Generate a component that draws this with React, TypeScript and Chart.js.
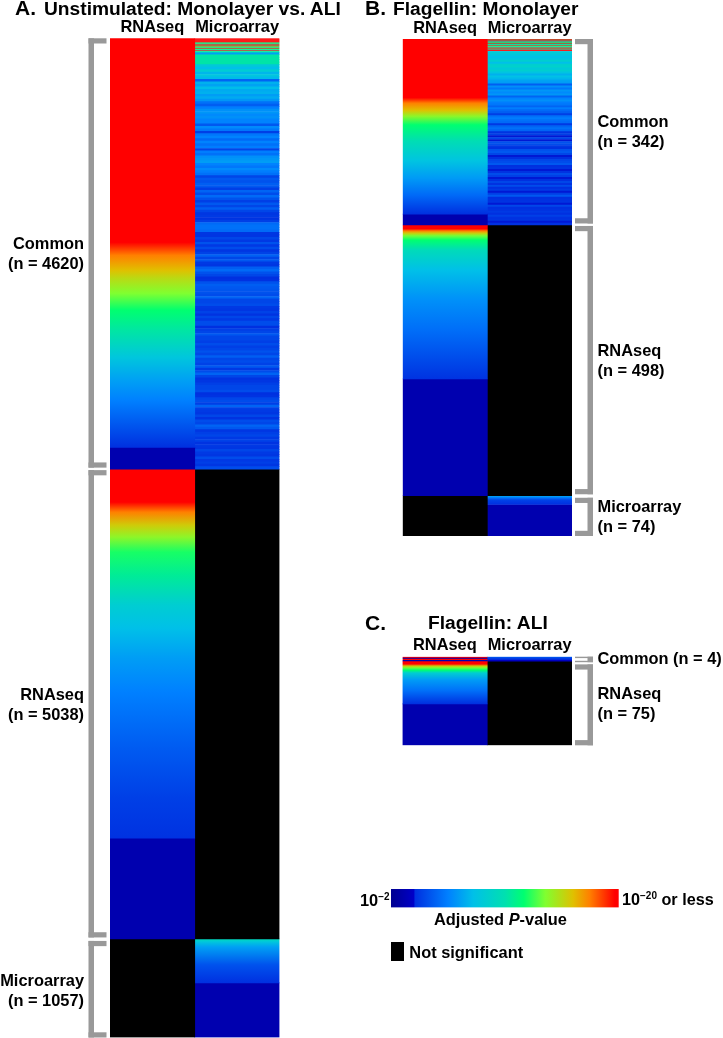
import React, { useEffect, useRef } from "react";
import { Chart, registerables } from "chart.js";

Chart.register(...registerables);

// ---------- colour scale: -log10(adjusted P) -> colour ----------
const scaleValues = [2, 3.8, 3.9, 6.5, 8.5, 11, 12.5, 14.2, 16.4, 17.7, 19.7, 20];
const scaleColours = [
  [0, 0, 144], [0, 0, 200], [0, 48, 224], [0, 128, 255], [0, 192, 232], [0, 224, 176],
  [0, 255, 112], [128, 255, 48], [224, 192, 0], [255, 128, 0], [255, 0, 0], [255, 0, 0],
];
const columns = ["RNAseq", "Microarray"];

// ---------- Panel A ----------
const aCounts = [4620, 5038, 1057];
const aCommonRnaRanks = [0, 2188, 2328, 2488, 2574, 2735, 2917, 3132, 3422, 3668, 3883, 4172, 4387];
const aCommonRnaValues = [20, 19.7, 17.7, 16.4, 15.5, 14.2, 12.5, 11.3, 9, 7.5, 6.5, 5, 3.9];
const aCommonRnaFloorRanks = [4387, 4620];
const aRnaRnaRanks = [4620, 4974, 5081, 5221, 5349, 5510, 5757, 6079, 6326, 6647, 7012, 7613, 8149, 8578];
const aRnaRnaValues = [20, 19.7, 17.7, 16, 14.5, 12.8, 11.6, 9.5, 8.5, 7.4, 6.5, 5.3, 4.4, 3.95];
const aRnaRnaFloorRanks = [8578, 9658];
const aMicroMicroRanks = [9658, 9690, 9744, 9937, 10130];
const aMicroMicroValues = [10.5, 9, 7.5, 5, 3.9];
const aMicroMicroFloorRanks = [10130, 10715];
const aCommonMicroTopRanks = [0, 150];
const aCommonMicroTop = [
  20, 20, 20, 20, 20, 20, 20, 20, 12, 20, 12, 12, 20, 11, 20, 13, 13, 20, 12, 12, 20, 12, 12, 11, 20, 11, 12, 11,
];
const aCommonMicroRestRanks = [150, 4620];
const aCommonMicroRest = [
  7.5, 11.2, 11.2, 11.2, 11.2,
  9.2, 8.5, 9.4, 8.2, 9, 8.3, 5.6, 8, 7.6, 8.4, 7.8,
  8, 7.4, 7.8, 7.2, 6, 5.4, 6.4, 7, 7.2, 6.8, 7, 6.6,
  6.6, 5.2, 6.8, 6.2, 4.4, 6.2, 6.6, 5.8, 6.6, 6, 6.4, 4.6,
  6.4, 6, 7, 7.2, 7.4, 6.6, 6.2, 6.8, 6.4, 6, 4.6, 5.2,
  5, 5.4, 5.2, 4.4, 5.6, 4.8, 5.8, 5, 4.4, 5.2, 4.6, 5.4,
  4.6, 4.1, 4.2, 4, 4.4, 5.8, 6, 6, 5.8, 4.1, 4.05, 4.6,
  4.2, 5, 4.2, 4.8, 4.1,
  4.5, 5.5, 4.6, 5.2, 4.2, 4.1, 5.4, 5.8, 5, 4.6, 3.9, 3.95, 5, 5.4, 5.2, 5.1, 5, 4.8, 5.6, 4.6,
  4.6, 4.8, 4.2, 4.1, 4.5, 4, 4.6, 4.2, 4.8, 4.8, 3.9, 4.4, 4.6, 5.2, 4.6, 4.6, 4.4, 4.8, 4.4, 4.6,
  5, 4.6, 5.4, 4.6, 4.8, 4.5, 5.2, 4.2, 4.8, 5.6, 4.6, 4, 4.1, 4.4, 4.6, 4.6, 4.8, 3.9, 4, 4.6,
  4.8, 4.4, 5.6, 4.4, 4.2, 4.1, 4.6, 4, 4.8, 4.6, 5.6, 5.2, 4.1, 4.4, 4.6, 4.2,
  4.5, 4, 4.2, 4.1, 4.6, 4.2, 4.1, 4.8, 4.2, 4.4, 4.1, 4.8,
];

// ---------- Panel B ----------
const bCounts = [342, 498, 74];
const bCommonRnaRanks = [0, 108, 118, 131, 142, 158, 188, 224, 256, 287, 311, 322];
const bCommonRnaValues = [20, 19.7, 17.7, 16.4, 14.5, 12.5, 10.8, 8.8, 7.3, 5.8, 4.5, 3.9];
const bCommonRnaFloorRanks = [322, 342];
const bRnaRnaRanks = [342, 349, 353, 357, 362, 370, 388, 425, 480, 535, 625];
const bRnaRnaValues = [20, 19.7, 17.7, 16, 14, 12.5, 10.6, 8.5, 7, 5.9, 4];
const bRnaRnaFloorRanks = [625, 840];
const bMicroMicroRanks = [840, 843, 848, 856];
const bMicroMicroValues = [8, 6.5, 4.5, 3.9];
const bMicroMicroFloorRanks = [856, 914];
const bCommonMicroTopRanks = [0, 24];
const bCommonMicroTop = [
  20, 20, 12, 20, 10, 11, 20, 12, 12, 20, 11, 11, 12, 20, 12, 12, 20, 11, 12, 20, 20, 11, 20, 20, 9, 9,
];
const bCommonMicroRestRanks = [24, 342];
const bCommonMicroRest = [
  9.4, 9, 8.6, 8.8, 9.6,
  8.5, 9.6, 9.8, 9.2, 9.6,
  8.8, 8, 8.6, 8.2, 7.6,
  7.4, 5.4, 7, 6.2, 7.2,
  6.8, 7.2, 5.6, 6.6, 7,
  6.4, 6.2, 5.6, 6.4, 5.8,
  5.4, 4.4, 6, 6.4, 6,
  5.8, 4.2, 5.6, 6, 5.6,
  4, 4.4, 3.85, 4.6, 3.85,
  5, 4.8, 4.2, 3.95, 5,
  5.2, 4.6, 3.85, 3.9, 4.6,
  4.8, 5.2, 3.9, 4, 3.85,
  4, 4.8, 4.4, 3.85, 3.9,
  4.6, 3.95, 4.8, 3.9, 4.2,
  3.85, 4.4, 5.2, 3.9, 3.95,
  4, 3.85, 4.6, 3.9, 3.95,
  4.2, 3.9, 4.4, 3.95, 4, 3.85, 3.9,
];

// ---------- Panel C ----------
const cCounts = [4, 75];
const cCommonRna = [20, 3, 20, 3];
const cCommonMicro = [5.5, 4.4, 4.2, 3.6];
const cRnaRnaRanks = [4, 6.5, 8.3, 10, 12, 14.5, 21, 30, 42];
const cRnaRnaValues = [20, 19.7, 16, 14, 12.5, 9.5, 7.3, 6, 3.9];
const cRnaRnaFloorRanks = [42, 79];

const groupNames = ["Common", "RNAseq", "Microarray"];
const FLOOR = [3];
const FONT = '"Liberation Sans"';

function colourOf(v: number) {
  let i = 0;
  while (i < scaleValues.length - 2 && v > scaleValues[i + 1]) i++;
  const t = Math.max(0, Math.min(1, (v - scaleValues[i]) / (scaleValues[i + 1] - scaleValues[i])));
  const c = scaleColours[i].map((a, k) => Math.round(a + (scaleColours[i + 1][k] - a) * t));
  return `rgb(${c[0]},${c[1]},${c[2]})`;
}

// A column segment whose value changes continuously between read-off key points.
function ramp(col: string, ranks: number[], values: number[]) {
  const last = ranks[ranks.length - 1];
  return {
    data: [{ x: col, y: [ranks[0], last] }],
    backgroundColor: (ctx: any) => {
      const y = ctx.chart.scales.y;
      const p0 = y ? y.getPixelForValue(ranks[0]) : NaN;
      const p1 = y ? y.getPixelForValue(last) : NaN;
      if (!Number.isFinite(p0) || !Number.isFinite(p1)) return "#000";
      const g = ctx.chart.ctx.createLinearGradient(0, p0, 0, p1);
      ranks.forEach((r, i) => g.addColorStop((r - ranks[0]) / (last - ranks[0]), colourOf(values[i])));
      return g;
    },
  };
}
// A flat segment
function flat(col: string, ranks: number[], values: number[]) {
  return { data: [{ x: col, y: [ranks[0], ranks[1]] }], backgroundColor: colourOf(values[0]) };
}
// Not significant
function none(col: string, from: number, to: number) {
  return { data: [{ x: col, y: [from, to] }], backgroundColor: "#000" };
}
// Evenly sized gene rows
function rows(col: string, range: number[], values: number[], blend = false) {
  const step = (range[1] - range[0]) / values.length;
  return {
    data: values.map((v, i) => ({ x: col, y: [range[0] + i * step, range[0] + (i + 1) * step], v })),
    backgroundColor: (ctx: any) => colourOf(ctx.raw ? ctx.raw.v : 3),
    ...(blend ? { inflateAmount: 0.15 } : {}),
  };
}

type Bracket = {
  name: string; n: number; inline?: boolean; dy?: number; inTop?: number; inBottom?: number; thick?: number;
};

function bracketPlugin(side: "left" | "right", groups: Bracket[]) {
  return {
    id: "brackets",
    afterDraw(chart: any) {
      const { ctx, chartArea, scales } = chart;
      const y = scales.y;
      let start = 0;
      groups.forEach((g, i) => {
        const end = start + g.n;
        const top = y.getPixelForValue(start) + (g.inTop ?? (i === 0 ? 0 : 1));
        const bottom = y.getPixelForValue(end) - (g.inBottom ?? (i === groups.length - 1 ? 0 : 1.5));
        const thick = g.thick ?? 5.2;
        const near = side === "left" ? chartArea.left - 3.5 : chartArea.right + 3;
        const far = side === "left" ? chartArea.left - 21.5 : chartArea.right + 21;
        const x0 = Math.min(near, far);
        const width = Math.abs(near - far);
        ctx.save();
        ctx.fillStyle = "#999999";
        ctx.fillRect(x0, top, width, thick);
        ctx.fillRect(x0, bottom - thick, width, thick);
        ctx.fillRect(side === "left" ? far : far - 5.5, top, 5.5, bottom - top);
        ctx.fillStyle = "#000";
        ctx.font = `bold 16.4px ${FONT}`;
        ctx.textBaseline = "alphabetic";
        ctx.textAlign = side === "left" ? "right" : "left";
        const lx = side === "left" ? chartArea.left - 26 : chartArea.right + 25.5;
        const mid = (y.getPixelForValue(start) + y.getPixelForValue(end)) / 2 + (g.dy ?? 0);
        if (g.inline) {
          ctx.fillText(`${g.name} (n = ${g.n})`, lx, mid + 5);
        } else {
          ctx.fillText(g.name, lx, mid - 4.5);
          ctx.fillText(`(n = ${g.n})`, lx, mid + 15.5);
        }
        ctx.restore();
        start = end;
      });
    },
  };
}

function panelConfig(datasets: any[], total: number, pad: any, axisHeight: number, plugin: any, tickPad: number) {
  return {
    type: "bar",
    data: {
      labels: columns,
      datasets: datasets.map((d) => ({ ...d, barPercentage: 1, categoryPercentage: 1, borderWidth: 0 })),
    },
    plugins: [plugin],
    options: {
      animation: false,
      responsive: false,
      devicePixelRatio: 1,
      layout: { padding: pad },
      plugins: { legend: { display: false }, tooltip: { enabled: false }, title: { display: false } },
      scales: {
        x: {
          position: "top",
          stacked: true,
          grid: { display: false, drawTicks: false },
          border: { display: false },
          afterFit: (s: any) => { s.height = axisHeight; },
          ticks: {
            color: "#000", padding: tickPad, maxRotation: 0, autoSkip: false,
            font: { family: FONT, size: 16.4, weight: "bold" },
          },
        },
        y: { display: false, reverse: true, min: 0, max: total, stacked: false },
      },
    },
  };
}

function legendConfig() {
  return {
    type: "bar",
    data: {
      labels: ["Adjusted P-value"],
      datasets: [{
        data: [[scaleValues[0], scaleValues[scaleValues.length - 1]]],
        barPercentage: 1, categoryPercentage: 1, borderWidth: 0,
        backgroundColor: (ctx: any) => {
          const x = ctx.chart.scales.x;
          const a = x ? x.getPixelForValue(2) : NaN;
          const b = x ? x.getPixelForValue(20) : NaN;
          if (!Number.isFinite(a) || !Number.isFinite(b)) return "#000";
          const g = ctx.chart.ctx.createLinearGradient(a, 0, b, 0);
          scaleValues.forEach((v) => g.addColorStop((v - 2) / 18, colourOf(v)));
          return g;
        },
      }],
    },
    options: {
      indexAxis: "y",
      animation: false,
      responsive: false,
      devicePixelRatio: 1,
      layout: { padding: { left: 31, right: 104.3, top: 9, bottom: 12.5 } },
      plugins: { legend: { display: false }, tooltip: { enabled: false } },
      scales: {
        x: { display: false, min: 2, max: 20 },
        y: { display: false },
      },
    },
  };
}

function Txt({ x, base, size, children }: any) {
  const lh = Math.round(size * 1.2);
  return (
    <span style={{
      position: "absolute", left: x, top: base - lh / 2 - 0.3465 * size, lineHeight: `${lh}px`,
      fontFamily: FONT, fontWeight: "bold", fontSize: size, color: "#000", whiteSpace: "nowrap",
    }}>{children}</span>
  );
}

function Sup({ children }: any) {
  return <span style={{ fontSize: 10, verticalAlign: 6, lineHeight: 0, fontWeight: "bold" }}>{children}</span>;
}

export default function App() {
  const aRef = useRef<HTMLCanvasElement>(null);
  const bRef = useRef<HTMLCanvasElement>(null);
  const cRef = useRef<HTMLCanvasElement>(null);
  const lRef = useRef<HTMLCanvasElement>(null);

  useEffect(() => {
    const A = columns[0], M = columns[1];
    const aTotal = aCounts[0] + aCounts[1] + aCounts[2];
    const bTotal = bCounts[0] + bCounts[1] + bCounts[2];
    const cTotal = cCounts[0] + cCounts[1];

    const charts = [
      new Chart(aRef.current as any, panelConfig([
        ramp(A, aCommonRnaRanks, aCommonRnaValues),
        flat(A, aCommonRnaFloorRanks, FLOOR),
        ramp(A, aRnaRnaRanks, aRnaRnaValues),
        flat(A, aRnaRnaFloorRanks, FLOOR),
        none(A, aCounts[0] + aCounts[1], aTotal),
        rows(M, aCommonMicroTopRanks, aCommonMicroTop, true),
        rows(M, aCommonMicroRestRanks, aCommonMicroRest),
        none(M, aCounts[0], aCounts[0] + aCounts[1]),
        ramp(M, aMicroMicroRanks, aMicroMicroValues),
        flat(M, aMicroMicroFloorRanks, FLOOR),
      ], aTotal, { left: 110, right: 80.5, top: 0, bottom: 0.5 }, 38.3,
        bracketPlugin("left", [
          { name: groupNames[0], n: aCounts[0] },
          { name: groupNames[1], n: aCounts[1] },
          { name: groupNames[2], n: aCounts[2], dy: 2, inTop: 2 },
        ]), 1) as any),
      new Chart(bRef.current as any, panelConfig([
        ramp(A, bCommonRnaRanks, bCommonRnaValues),
        flat(A, bCommonRnaFloorRanks, FLOOR),
        ramp(A, bRnaRnaRanks, bRnaRnaValues),
        flat(A, bRnaRnaFloorRanks, FLOOR),
        none(A, bCounts[0] + bCounts[1], bTotal),
        rows(M, bCommonMicroTopRanks, bCommonMicroTop, true),
        rows(M, bCommonMicroRestRanks, bCommonMicroRest),
        none(M, bCounts[0], bCounts[0] + bCounts[1]),
        ramp(M, bMicroMicroRanks, bMicroMicroValues),
        flat(M, bMicroMicroFloorRanks, FLOOR),
      ], bTotal, { left: 42.7, right: 151, top: 0, bottom: 24 }, 39,
        bracketPlugin("right", [
          { name: groupNames[0], n: bCounts[0] },
          { name: groupNames[1], n: bCounts[1] },
          { name: groupNames[2], n: bCounts[2], dy: 1, inTop: 2 },
        ]), 1) as any),
      new Chart(cRef.current as any, panelConfig([
        rows(A, [0, cCounts[0]], cCommonRna, true),
        ramp(A, cRnaRnaRanks, cRnaRnaValues),
        flat(A, cRnaRnaFloorRanks, FLOOR),
        rows(M, [0, cCounts[0]], cCommonMicro),
        none(M, cCounts[0], cTotal),
      ], cTotal, { left: 42.5, right: 151, top: 0, bottom: 14.7 }, 56.7,
        bracketPlugin("right", [
          { name: groupNames[0], n: cCounts[0], inline: true, inBottom: -1, thick: 1.4 },
          { name: groupNames[1], n: cCounts[1], inTop: 3.2 },
        ]), 1) as any),
      new Chart(lRef.current as any, legendConfig() as any),
    ];
    return () => charts.forEach((c) => c.destroy());
  }, []);

  const cv = (left: number, top: number): React.CSSProperties => ({ position: "absolute", left, top, display: "block" });

  return (
    <div style={{ position: "absolute", left: 0, top: 0, width: 723, height: 1038, overflow: "hidden", background: "#fff" }}>
      <canvas ref={aRef} width={360} height={1038} style={cv(0, 0)} />
      <canvas ref={bRef} width={363} height={560} style={cv(360, 0)} />
      <canvas ref={cRef} width={363} height={160} style={cv(360, 600)} />
      <canvas ref={lRef} width={363} height={40} style={cv(360, 880)} />

      <Txt x={15} base={15} size={21}>A.</Txt>
      <Txt x={44} base={15} size={19.2}>Unstimulated: Monolayer vs. ALI</Txt>
      <Txt x={365} base={15} size={21}>B.</Txt>
      <Txt x={393} base={15} size={19.2}>Flagellin: Monolayer</Txt>
      <Txt x={365} base={629.3} size={21}>C.</Txt>
      <Txt x={428} base={629} size={19.2}>Flagellin: ALI</Txt>

      <Txt x={360} base={905.5} size={16.4}>10<Sup>−2</Sup></Txt>
      <Txt x={622} base={905.5} size={16.2}>10<Sup>−20</Sup> or less</Txt>
      <Txt x={434} base={925} size={16.4}>Adjusted <i>P</i>-value</Txt>
      <div style={{ position: "absolute", left: 391, top: 942, width: 12.7, height: 18.7, background: "#000" }} />
      <Txt x={409.3} base={957.7} size={16.4}>Not significant</Txt>
    </div>
  );
}
